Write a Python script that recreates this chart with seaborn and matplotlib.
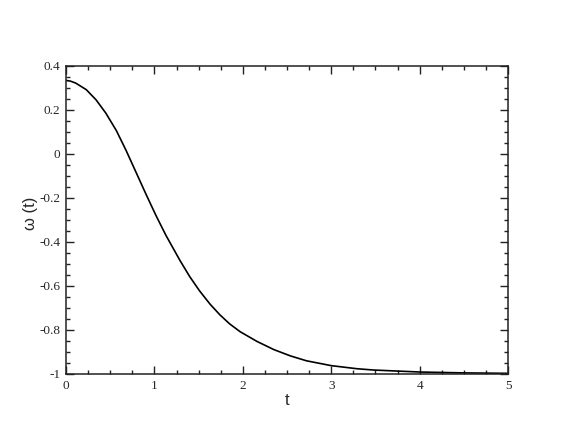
import matplotlib
matplotlib.use("Agg")
import matplotlib.pyplot as plt
from matplotlib.ticker import MultipleLocator
import seaborn as sns
import pandas as pd

# Data
t_values = [0.0, 0.05, 0.11, 0.23, 0.34, 0.45, 0.57, 0.68, 0.79, 0.91, 1.02, 1.13,
            1.29, 1.40, 1.51, 1.63, 1.74, 1.85, 1.97, 2.16, 2.35, 2.54, 2.72,
            3.0, 3.29, 3.48, 4.0, 4.5, 5.0]
omega_values = [0.333, 0.330, 0.321, 0.291, 0.245, 0.185, 0.105, 0.015, -0.082,
                -0.188, -0.282, -0.370, -0.485, -0.558, -0.622, -0.683, -0.731,
                -0.772, -0.808, -0.852, -0.889, -0.918, -0.940, -0.962, -0.976,
                -0.982, -0.991, -0.995, -0.997]
x_ticks = [0, 1, 2, 3, 4, 5]
y_ticks = [-1, -0.8, -0.6, -0.4, -0.2, 0, 0.2, 0.4]
y_tick_labels = ["-1", "-0.8", "-0.6", "-0.4", "-0.2", "0", "0.2", "0.4"]
x_label = "t"
y_label = "ω (t)"

df = pd.DataFrame({"t": t_values, "omega": omega_values})

sns.set_style("ticks")
plt.rcParams["font.family"] = ["Liberation Serif", "DejaVu Serif"]

fig = plt.figure(figsize=(5.72, 4.42), dpi=100)
ax = fig.add_axes([66 / 572, 1 - 374 / 442, 442 / 572, (374 - 65.7) / 442])

sns.lineplot(data=df, x="t", y="omega", ax=ax, color="black", linewidth=1.2,
             estimator=None, sort=False)

ax.set_xlim(0, 5)
ax.set_ylim(-1, 0.4)
ax.set_xticks(x_ticks)
ax.set_xticklabels([str(v) for v in x_ticks])
ax.set_yticks(y_ticks)
ax.set_yticklabels(y_tick_labels)
ax.xaxis.set_minor_locator(MultipleLocator(0.25))
ax.yaxis.set_minor_locator(MultipleLocator(0.05))

ax.tick_params(which="both", direction="in", top=True, right=True,
               width=1.0, color="#222222")
ax.tick_params(which="major", length=6, labelsize=9.5, pad=4)
ax.tick_params(which="minor", length=3)
for s in ax.spines.values():
    s.set_linewidth(1.1)
    s.set_color("#222222")
    s.set_visible(True)

ax.set_xlabel(x_label, fontsize=12, family=["Liberation Sans", "DejaVu Sans"])
ax.set_ylabel(y_label, fontsize=12, family=["Liberation Sans", "DejaVu Sans"])
ax.xaxis.set_label_coords(0.5, -0.062)
ax.yaxis.set_label_coords(-0.063, 0.52)

fig.savefig("out.png", dpi=100)
